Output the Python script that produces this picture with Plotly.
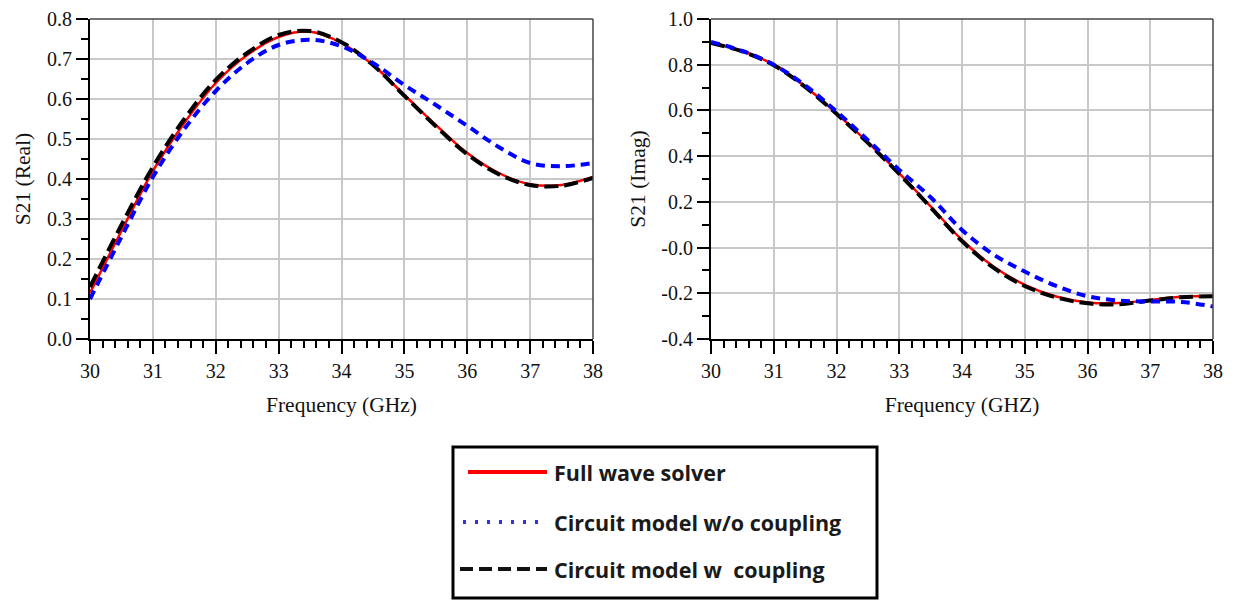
import plotly.graph_objects as go

W, H = 1239, 601

freq = [30, 30.5, 31, 31.5, 32, 32.5, 33, 33.5, 34, 34.5, 35, 35.5, 36, 36.5, 37, 37.5, 38]

real_full = [0.115, 0.27, 0.42, 0.54, 0.64, 0.71, 0.755, 0.768, 0.74, 0.685, 0.61, 0.535, 0.465, 0.415, 0.387, 0.385, 0.405]
real_wo = [0.10, 0.255, 0.405, 0.525, 0.62, 0.69, 0.735, 0.748, 0.732, 0.69, 0.635, 0.585, 0.533, 0.48, 0.44, 0.432, 0.44]
real_w = [0.13, 0.285, 0.43, 0.55, 0.648, 0.715, 0.76, 0.77, 0.742, 0.685, 0.608, 0.532, 0.462, 0.412, 0.385, 0.383, 0.403]

imag_full = [0.897, 0.86, 0.80, 0.705, 0.587, 0.46, 0.325, 0.18, 0.033, -0.083, -0.163, -0.214, -0.24, -0.243, -0.229, -0.215, -0.212]
imag_wo = [0.90, 0.86, 0.80, 0.71, 0.595, 0.47, 0.34, 0.22, 0.077, -0.03, -0.105, -0.168, -0.213, -0.232, -0.236, -0.238, -0.258]
imag_w = [0.895, 0.858, 0.798, 0.703, 0.585, 0.458, 0.322, 0.176, 0.028, -0.088, -0.168, -0.218, -0.244, -0.248, -0.232, -0.217, -0.213]

x_ticks = [30, 31, 32, 33, 34, 35, 36, 37, 38]
real_ticks = [0.0, 0.1, 0.2, 0.3, 0.4, 0.5, 0.6, 0.7, 0.8]
real_ticktext = ["0.0", "0.1", "0.2", "0.3", "0.4", "0.5", "0.6", "0.7", "0.8"]
imag_ticks = [-0.4, -0.2, 0.0, 0.2, 0.4, 0.6, 0.8, 1.0]
imag_ticktext = ["-0.4", "-0.2", "-0.0", "0.2", "0.4", "0.6", "0.8", "1.0"]

legend_names = ["Full wave solver", "Circuit model w/o coupling", "Circuit model w  coupling"]

RED = "#ff0000"
BLUE = "#0000ff"
BLACK = "#000000"

fig = go.Figure()

def add_set(xa, ya, full, wo, w):
    fig.add_trace(go.Scatter(x=freq, y=full, xaxis=xa, yaxis=ya, mode="lines",
                             line=dict(color=RED, width=2.5, shape="spline"), showlegend=False))
    fig.add_trace(go.Scatter(x=freq, y=w, xaxis=xa, yaxis=ya, mode="lines",
                             line=dict(color=BLACK, width=4, dash="14px,6px", shape="spline"), showlegend=False))
    fig.add_trace(go.Scatter(x=freq, y=wo, xaxis=xa, yaxis=ya, mode="lines",
                             line=dict(color=BLUE, width=4, dash="9px,6px", shape="spline"), showlegend=False))

add_set("x", "y", real_full, real_wo, real_w)
add_set("x2", "y2", imag_full, imag_wo, imag_w)

def px(x):
    return x / W

def py(y):
    return 1 - y / H

SERIF = "Liberation Serif"
tick_font = dict(family=SERIF, size=20, color="#111111")
title_font = dict(family=SERIF, size=21.5, color="#111111")

xcommon = dict(range=[30, 38], tickvals=x_ticks, ticks="outside", ticklen=13, tickwidth=1.5,
               tickcolor="#000", showline=True, linecolor="#000", linewidth=2,
               showgrid=True, gridcolor="#c8c8c8", gridwidth=1.5, zeroline=False,
               tickfont=tick_font, automargin=False,
               minor=dict(dtick=0.2, ticks="outside", ticklen=7, tickwidth=1.5, tickcolor="#000", showgrid=False))

fig.update_layout(
    width=W, height=H,
    margin=dict(l=0, r=0, t=0, b=0),
    paper_bgcolor="white", plot_bgcolor="white",
    showlegend=False,
    font=dict(family=SERIF),
    xaxis=dict(domain=[px(90), px(593)], anchor="y",
               title=dict(text="Frequency (GHz)", font=title_font, standoff=16), **xcommon),
    yaxis=dict(domain=[py(339), py(19)], anchor="x", range=[0, 0.8], tickvals=real_ticks, ticktext=real_ticktext,
               ticks="outside", ticklen=12, tickwidth=1.5, tickcolor="#000",
               showline=True, linecolor="#000", linewidth=2,
               showgrid=True, gridcolor="#c8c8c8", gridwidth=1.5, zeroline=False,
               tickfont=tick_font, automargin=False,
               title=dict(text="S21 (Real)", font=title_font, standoff=10),
               minor=dict(dtick=0.05, ticks="outside", ticklen=7, tickwidth=1.5, tickcolor="#000", showgrid=False)),
    xaxis2=dict(domain=[px(711), px(1213)], anchor="y2",
                title=dict(text="Frequency (GHZ)", font=title_font, standoff=16), **xcommon),
    yaxis2=dict(domain=[py(339), py(19)], anchor="x2", range=[-0.4, 1.0], tickvals=imag_ticks, ticktext=imag_ticktext,
                ticks="outside", ticklen=12, tickwidth=1.5, tickcolor="#000",
                showline=True, linecolor="#000", linewidth=2,
                showgrid=True, gridcolor="#c8c8c8", gridwidth=1.5, zeroline=False,
                tickfont=tick_font, automargin=False,
                title=dict(text="S21 (Imag)", font=title_font, standoff=10),
                minor=dict(dtick=0.1, ticks="outside", ticklen=7, tickwidth=1.5, tickcolor="#000", showgrid=False)),
)

shapes = []
for xr, yr in (("x domain", "y domain"), ("x2 domain", "y2 domain")):
    shapes.append(dict(type="line", xref=xr, yref=yr, x0=0, x1=1, y0=1, y1=1, line=dict(color="#444444", width=1.5)))
    shapes.append(dict(type="line", xref=xr, yref=yr, x0=1, x1=1, y0=0, y1=1, line=dict(color="#444444", width=1.5)))

shapes.append(dict(type="rect", xref="paper", yref="paper", x0=px(453), x1=px(877), y0=py(598), y1=py(447),
                   line=dict(color="#000", width=3), fillcolor="white"))
leg_styles = [
    dict(color=RED, width=4, dash="solid"),
    dict(color="#3333dd", width=4, dash="3px,9px"),
    dict(color="#111111", width=4, dash="13px,6px"),
]
leg_y = [472, 522, 569]
leg_x0 = [468, 463, 460]
for yy, x0, st in zip(leg_y, leg_x0, leg_styles):
    shapes.append(dict(type="line", xref="paper", yref="paper", x0=px(x0), x1=px(547), y0=py(yy), y1=py(yy), line=st))
fig.update_layout(shapes=shapes)

annotations = []
for name, yy in zip(legend_names, leg_y):
    annotations.append(dict(text=name, xref="paper", yref="paper", x=px(552), y=py(yy), xanchor="left", yanchor="middle",
                            showarrow=False, font=dict(family="Open Sans", size=21.5, color="#1a1a1a", weight="bold")))
fig.update_layout(annotations=annotations)

fig.write_html("out.html")
